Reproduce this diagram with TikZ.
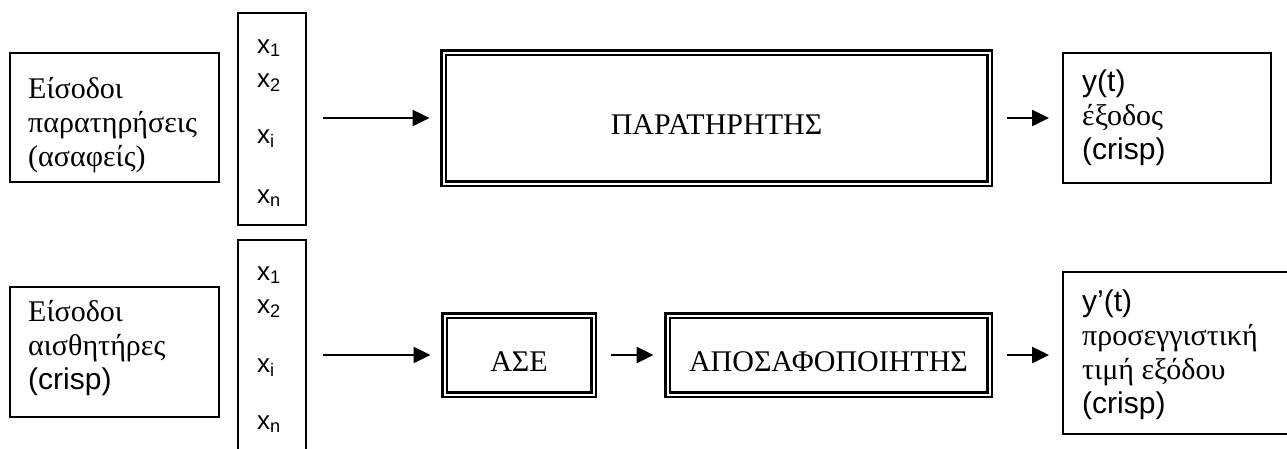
\documentclass[tikz,border=0pt]{standalone}
\usepackage{fontspec}
\setmainfont{Liberation Serif}
\setsansfont{Liberation Sans}
\usetikzlibrary{arrows.meta}

\begin{document}
\begin{tikzpicture}[x=1pt,y=-1pt,
    box/.style={draw,line width=2.2pt,inner sep=0pt,outer sep=0pt,anchor=north west},
    blk/.style={draw,line width=2.5pt,double,double distance=2pt,inner sep=0pt,outer sep=0pt,
      font=\fontsize{30}{34}\selectfont,text height=33pt,text depth=0pt},
    txt/.style={anchor=base west,align=left,inner sep=0pt,font=\fontsize{30}{34}\selectfont},
    var/.style={anchor=base west,inner sep=0pt,font=\sffamily\fontsize{26}{30}\selectfont},
    flow/.style={-{Triangle[length=17pt,width=16pt]},line width=2.5pt,shorten <=17pt,shorten >=14pt}]
  \useasboundingbox (0,0) rectangle (1287,448);

  % observer branch (text nodes sit on their last baseline)
  \node[box,minimum width=209pt,minimum height=129pt] (obsin) at (10,53) {};
  \node[txt] (obsintxt) at (28,166) {Είσοδοι\\παρατηρήσεις\\(ασαφείς)};
  \node[box,minimum width=68pt,minimum height=212pt] (vars1) at (238,13) {};
  \foreach \s/\y [count=\i] in {1/53,2/87,i/143,n/203}
    \node[var] (xa\i) at (257,\y) {x\textsubscript{\s}};
  \node[blk,minimum width=546pt,minimum height=131pt] (obs) at (716.5,118) {ΠΑΡΑΤΗΡΗΤΗΣ};
  \node[box,minimum width=208pt,minimum height=130pt] (out1) at (1063,53) {};
  \node[txt] (out1txt) at (1082,159) {\textsf{y(t)}\\έξοδος\\\textsf{(crisp)}};

  % sensor branch
  \node[box,minimum width=209pt,minimum height=130pt] (senin) at (10,287) {};
  \node[txt] (senintxt) at (28,389) {Είσοδοι\\αισθητήρες\\\textsf{(crisp)}};
  \node[box,minimum width=68pt,minimum height=240pt] (vars2) at (238,240) {};
  \foreach \s/\y [count=\i] in {1/280,2/313,i/372,n/429}
    \node[var] (xb\i) at (257,\y) {x\textsubscript{\s}};
  \node[blk,minimum width=149pt,minimum height=79pt] (ase) at (519,355) {ΑΣΕ};
  \node[blk,minimum width=322pt,minimum height=79pt] (apos) at (828.5,355) {ΑΠΟΣΑΦΟΠΟΙΗΤΗΣ};
  \node[box,minimum width=257pt,minimum height=162pt] (out2) at (1063,272) {};
  \node[txt] (out2txt) at (1082,413) {\textsf{y’(t)}\\προσεγγιστική\\τιμή εξόδου\\\textsf{(crisp)}};

  \draw[flow] (obs.west -| vars1.east) -- (obs.west);
  \draw[flow] (obs.east) -- (obs.east -| out1.west);
  \draw[flow] (ase.west -| vars2.east) -- (ase.west);
  \draw[flow] (ase) -- (apos);
  \draw[flow] (apos.east) -- (apos.east -| out2.west);
\end{tikzpicture}
\end{document}
